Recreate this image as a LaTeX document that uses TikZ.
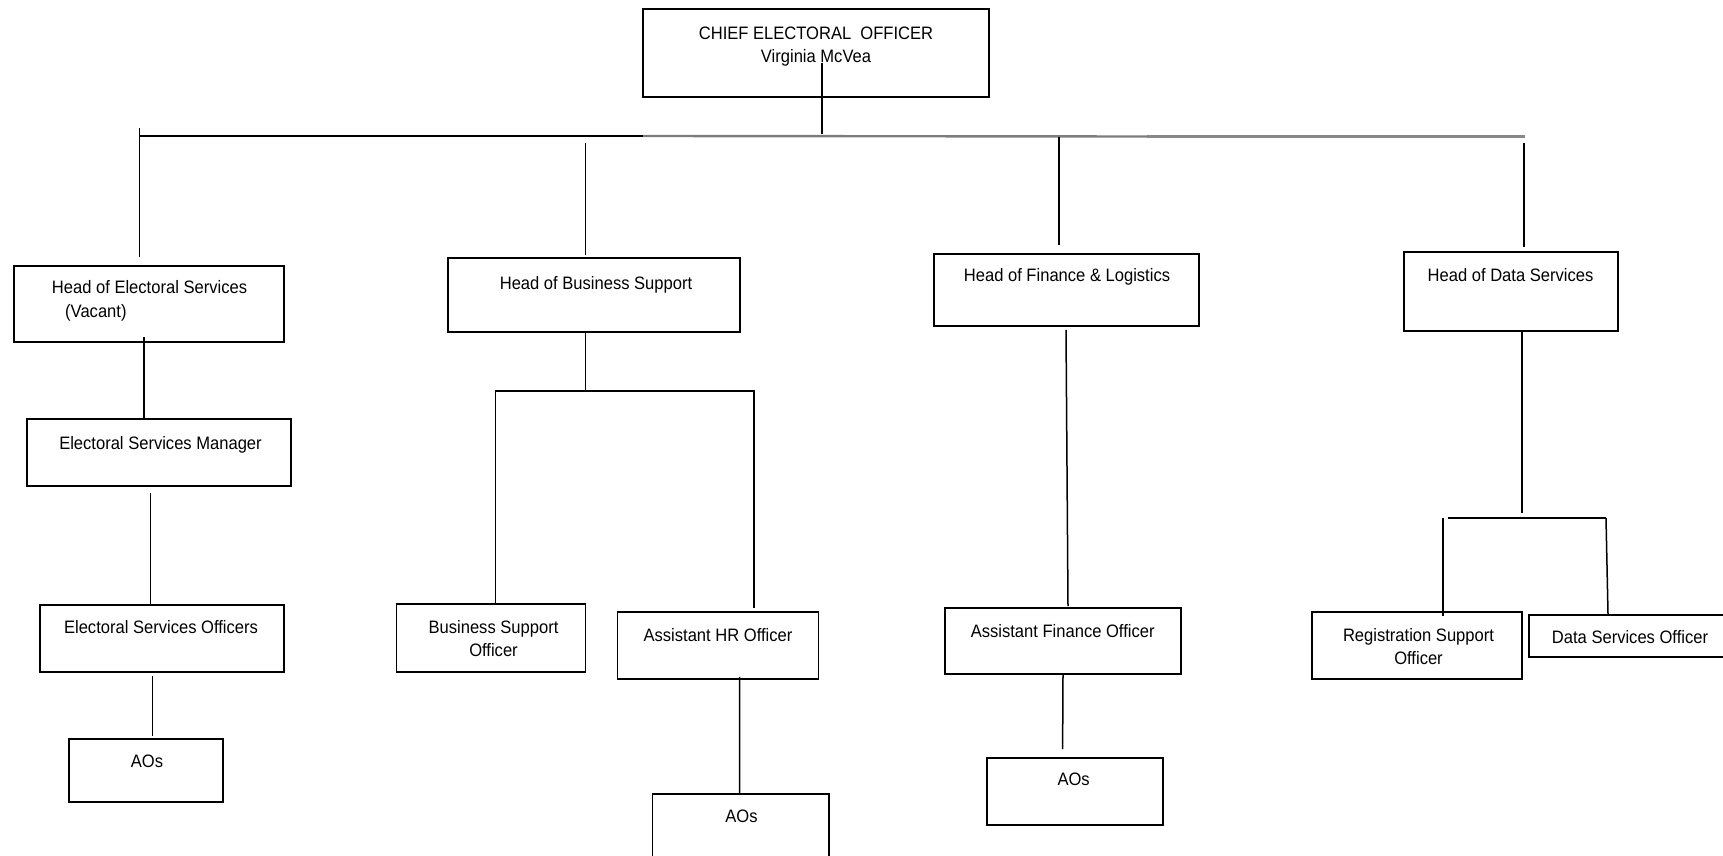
\documentclass[tikz,border=0pt]{standalone}
\usepackage{fontspec}
\setmainfont{Liberation Sans}[FakeStretch=0.92]
\begin{document}
\begin{tikzpicture}[x=1pt,y=-1pt,
  box/.style={draw=black, line width=1.8pt, inner sep=0pt, rectangle},
  txt/.style={inner sep=0pt, anchor=north, align=center, font=\fontsize{18}{23}\selectfont},
  conn/.style={draw=black, line width=1.5pt},
  busblack/.style={draw=black, line width=1.8pt},
  busgray/.style={draw={rgb,255:red,125;green,125;blue,125}, line width=2.4pt},
  busgraythick/.style={draw={rgb,255:red,135;green,135;blue,135}, line width=3.2pt}]
\useasboundingbox (0,0) rectangle (1723,856);
\fill[white] (0,0) rectangle (1723,856);

% boxes
\node[box, minimum width=346pt, minimum height=88pt] (ceo) at (816,53) {};
\node[box, minimum width=270pt, minimum height=76pt] (hes) at (149,304) {};
\node[box, minimum width=292pt, minimum height=74pt] (hbs) at (594,295) {};
\node[box, minimum width=265pt, minimum height=72pt] (hfl) at (1066.5,290) {};
\node[box, minimum width=214pt, minimum height=79pt] (hds) at (1511,291.5) {};
\node[box, minimum width=264pt, minimum height=67pt] (esm) at (159,452.5) {};
\node[box, minimum width=244pt, minimum height=67pt] (eso) at (162,638.5) {};
\node[box, minimum width=154pt, minimum height=63pt] (aosa) at (146,770.5) {};
\node[box, minimum width=189pt, minimum height=68pt] (bso) at (491,638) {};
\node[box, minimum width=201pt, minimum height=67pt] (ahro) at (718,645.5) {};
\node[box, minimum width=176.5pt, minimum height=76pt] (aosb) at (740.7,832) {};
\node[box, minimum width=236pt, minimum height=66pt] (afo) at (1063,641) {};
\node[box, minimum width=176pt, minimum height=67pt] (aosc) at (1074.7,791.5) {};
\node[box, minimum width=210pt, minimum height=67pt] (rso) at (1417,645.5) {};
\node[box, minimum width=201pt, minimum height=42pt] (dso) at (1629.5,636) {};

% texts
\node[txt] (ceo-t) at (816,26.7) {CHIEF ELECTORAL\ \ OFFICER\\Virginia McVea};
\node[txt] (hes-t) at (149.5,280) {Head of Electoral Services};
\node[inner sep=0pt, anchor=base west, font=\fontsize{18}{23}\selectfont] (hes-v) at (65,317) {(Vacant)};
\node[txt] (hbs-t) at (596,276.5) {Head of Business Support};
\node[txt] (hfl-t) at (1067,268.5) {Head of Finance \& Logistics};
\node[txt] (hds-t) at (1510.5,268.5) {Head of Data Services};
\node[txt] (esm-t) at (160.5,436.5) {Electoral Services Manager};
\node[txt] (eso-t) at (161,620.5) {Electoral Services Officers};
\node[txt] (aosa-t) at (147,754.5) {AOs};
\node[txt] (bso-t) at (493.5,620.5) {Business Support\\Officer};
\node[txt] (ahro-t) at (718,628.5) {Assistant HR Officer};
\node[txt] (aosb-t) at (741.5,810) {AOs};
\node[txt] (afo-t) at (1062.7,624.5) {Assistant Finance Officer};
\node[txt] (aosc-t) at (1073.6,772.5) {AOs};
\node[txt] (rso-t) at (1418.5,628.5) {Registration Support\\Officer};
\node[txt] (dso-t) at (1630,630) {Data Services Officer};

% bus coordinates
\coordinate (busL) at (140,136);
\coordinate (busM) at (643,136);
\coordinate (busN) at (1147,136.5);
\coordinate (busR) at (1525,136.5);
\coordinate (busC) at (822,134);
\coordinate (c1top) at (139.5,128);
\coordinate (c2top) at (585.7,143);
\coordinate (c3top) at (1059,137);
\coordinate (c4top) at (1524,143);
\coordinate (split) at (585.7,391);
\coordinate (dsend) at (1522,513);
\coordinate (dsL) at (1448,518);
\coordinate (dsLv) at (1443,518);
\coordinate (dsR) at (1606,518);

% bus
\draw[busgraythick] (busN) -- (busR);
\draw[busgray] (busM) -- (busN);
\draw[busblack] (busL) -- (busM);

% CEO down to bus
\draw[conn] ([xshift=6pt,yshift=-10pt]ceo.center) -- (busC);

% columns from bus
\draw[conn] (c1top) -- ([xshift=-9.5pt,yshift=8pt]hes.north);
\draw[conn] (c2top) -- ([xshift=-8.3pt,yshift=2pt]hbs.north);
\draw[conn] (c3top) -- ([xshift=-7.5pt,yshift=8pt]hfl.north);
\draw[conn] (c4top) -- ([xshift=13pt,yshift=4pt]hds.north);

% electoral services chain
\draw[conn] ([xshift=-5pt,yshift=6pt]hes.south) -- ([xshift=-15pt]esm.north);
\draw[conn] ([xshift=-8.5pt,yshift=-6pt]esm.south) -- ([xshift=-11.5pt]eso.north);
\draw[conn] ([xshift=-9.3pt,yshift=-3pt]eso.south) -- ([xshift=6.7pt,yshift=2pt]aosa.north);

% business support
\draw[conn] ([xshift=-8.3pt]hbs.south) -- (split);
\draw[conn] ([xshift=4.6pt]bso.north) |- (split) -| ([xshift=35.8pt,yshift=3pt]ahro.north);
\draw[conn] ([xshift=21.6pt,yshift=3pt]ahro.south) -- ([xshift=-1.1pt]aosb.north);

% finance
\draw[conn] ([xshift=-0.5pt,yshift=-3pt]hfl.south) -- ([xshift=5pt,yshift=1pt]afo.north);
\draw[conn] (afo.south) -- ([xshift=-12.1pt,yshift=8pt]aosc.north);

% data services
\draw[conn] ([xshift=11pt]hds.south) -- (dsend);
\draw[conn, line width=1.8pt] (dsL) -- (dsR);
\draw[conn] ([xshift=26pt,yshift=-5pt]rso.north) -- (dsLv);
\draw[conn] (dsR) -- ([xshift=-21.5pt]dso.north);
\end{tikzpicture}
\end{document}
